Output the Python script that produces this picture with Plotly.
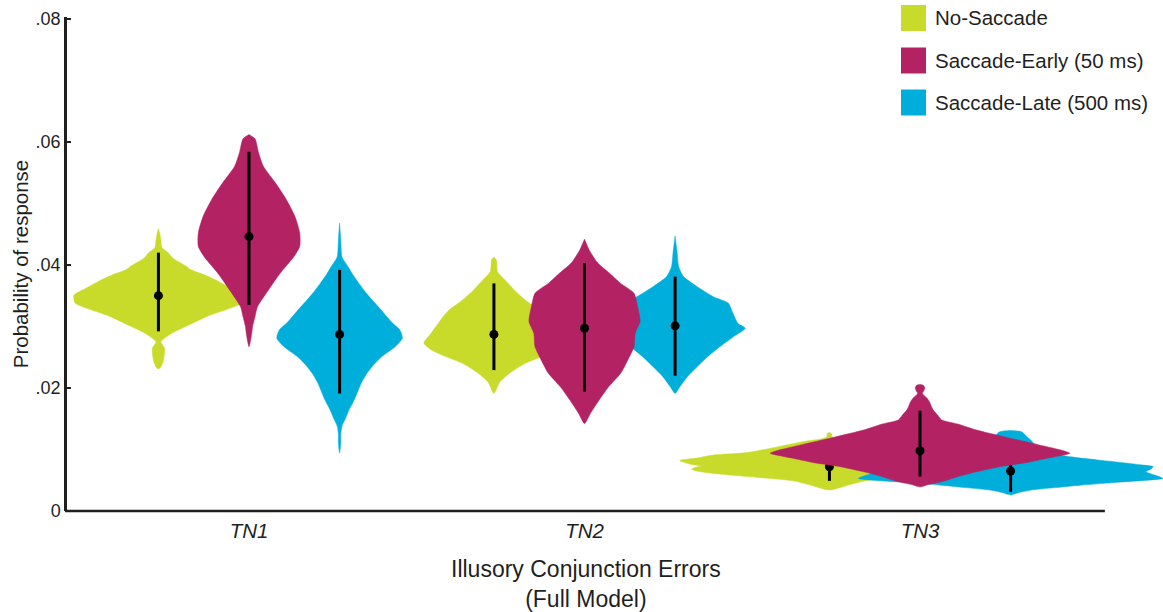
import plotly.graph_objects as go

# ---------------------------------------------------------------------------
# Data
# ---------------------------------------------------------------------------
categories = ["TN1", "TN2", "TN3"]
series_names = ["No-Saccade", "Saccade-Early (50 ms)", "Saccade-Late (500 ms)"]
series_colors = ["#c9db2a", "#b32364", "#00aedb"]

# posterior summaries: mean and interval bounds per condition / category
means = {
    "No-Saccade": [0.0350, 0.0287, 0.0072],
    "Saccade-Early (50 ms)": [0.0446, 0.0297, 0.0098],
    "Saccade-Late (500 ms)": [0.0287, 0.0301, 0.0065],
}
lower = {
    "No-Saccade": [0.0292, 0.0229, 0.0049],
    "Saccade-Early (50 ms)": [0.0335, 0.0194, 0.0056],
    "Saccade-Late (500 ms)": [0.0191, 0.0220, 0.0031],
}
upper = {
    "No-Saccade": [0.0420, 0.0370, 0.0098],
    "Saccade-Early (50 ms)": [0.0584, 0.0403, 0.0163],
    "Saccade-Late (500 ms)": [0.0392, 0.0381, 0.0084],
}

# posterior density profiles (probability grid, estimated density)
ns_tn1_p = [.0231, .0234, .0244, .0257, .0265, .0275, .0281, .0291, .0304, .0317, .0328, .0338,
            .0351, .0361, .0374, .0384, .0392, .0398, .0411, .0420, .0428, .0441, .0452, .0459]
ns_tn1_d = [0, 2, 4, 5, 5, 2, 5, 13, 27, 41, 57, 69, 70, 61, 49, 38, 27, 23, 12, 8, 3, 2, 1, 0]

ns_tn2_p = [.0191, .0210, .0224, .0240, .0251, .0262, .0273, .0289, .0305, .0316, .0327, .0343,
            .0359, .0376, .0389, .0408, .0413]
ns_tn2_d = [0, 5, 13, 26, 40, 52, 58, 52, 46, 42, 37, 26, 17, 9, 3, 2, 0]

ns_tn3_p = [.0034, .0040, .0049, .0056, .0061, .0065, .0068, .0071, .0073, .0076, .0082, .0086,
            .0091, .0095, .0105, .0114, .0118, .0121, .0125, .0128]
ns_tn3_d = [0, 12, 30, 68, 96, 110, 114, 111, 106, 115, 124, 110, 96, 68, 41, 18, 5, 2, 2, 0]

se_tn1_p = [.0267, .0285, .0300, .0316, .0332, .0359, .0387, .0413, .0430, .0452, .0479, .0506,
            .0533, .0560, .0582, .0605, .0612]
se_tn1_d = [0, 2, 3, 5, 7, 16, 26, 37, 42, 42, 38, 31, 22, 12, 8, 5, 0]

se_tn2_p = [.0142, .0159, .0180, .0202, .0224, .0246, .0267, .0289, .0308, .0332, .0354, .0370,
            .0386, .0403, .0424, .0442]
se_tn2_d = [0, 5, 12, 20, 30, 36, 41, 42, 46, 44, 41, 30, 21, 11, 4, 0]

se_tn3_p = [.0039, .0043, .0047, .0055, .0062, .0072, .0079, .0086, .0094, .0100, .0105, .0111,
            .0120, .0132, .0141, .0148, .0155, .0164, .0172, .0177, .0183, .0191, .0195, .0200,
            .0204, .0206]
se_tn3_d = [0, 7, 17, 30, 43, 66, 89, 106, 124, 115, 104, 91, 71, 46, 32, 18, 15, 11, 9, 8, 6,
            2, 3, 4, 3, 0]

sl_tn1_p = [.0094, .0110, .0125, .0138, .0151, .0165, .0180, .0194, .0208, .0222, .0235, .0251,
            .0267, .0281, .0294, .0305, .0316, .0330, .0343, .0357, .0370, .0384, .0397, .0413,
            .0440, .0468]
sl_tn1_d = [0, 1, 1, 2, 5, 8, 12, 15, 18, 22, 27, 35, 46, 52, 50, 44, 39, 33, 27, 21, 16, 11, 7,
            2, 1, 0]

sl_tn2_p = [.0191, .0202, .0218, .0234, .0251, .0267, .0283, .0297, .0305, .0321, .0338, .0348,
            .0365, .0381, .0397, .0424, .0447]
sl_tn2_d = [0, 4, 10, 18, 27, 37, 48, 58, 52, 48, 44, 32, 18, 7, 3, 1.5, 0]

sl_tn3_p = [.0026, .0030, .0034, .0038, .0042, .0047, .0053, .0058, .0064, .0068, .0072, .0075,
            .0079, .0083, .0088, .0094, .0100, .0110, .0115, .0120, .0124, .0129, .0131]
sl_tn3_d = [0, 7, 17, 37, 58, 91, 126, 120, 112, 116, 118, 108, 91, 72, 50, 35, 25, 19, 17, 14,
            12, 9, 0]

profiles = {
    "No-Saccade": [(ns_tn1_p, ns_tn1_d), (ns_tn2_p, ns_tn2_d), (ns_tn3_p, ns_tn3_d)],
    "Saccade-Early (50 ms)": [(se_tn1_p, se_tn1_d), (se_tn2_p, se_tn2_d), (se_tn3_p, se_tn3_d)],
    "Saccade-Late (500 ms)": [(sl_tn1_p, sl_tn1_d), (sl_tn2_p, sl_tn2_d), (sl_tn3_p, sl_tn3_d)],
}

# ---------------------------------------------------------------------------
# Layout parameters
# ---------------------------------------------------------------------------
W, H = 1163, 612
M_L, M_R, M_T, M_B = 67, 0, 17, 101
cat_pos = [1, 2, 3]
offsets = {"No-Saccade": -0.27, "Saccade-Early (50 ms)": 0.0, "Saccade-Late (500 ms)": 0.27}
density_scale = 0.45 / 125          # x-units per density unit
x_lo, x_hi = 0.4575, 0.4575 + (W - M_L - M_R) / 335.5
axis_end = 3.551                    # right end of the drawn x-axis line
y_lo, y_hi = 0.0, 0.0803
ink = "#1f1f1f"
font = "Liberation Sans, Arial, Helvetica, sans-serif"

fig = go.Figure()

# drawing order: green, blue, then magenta on top
draw_order = ["No-Saccade", "Saccade-Late (500 ms)", "Saccade-Early (50 ms)"]
for name in draw_order:
    color = series_colors[series_names.index(name)]
    for k, (ps, ds) in enumerate(profiles[name]):
        c = cat_pos[k] + offsets[name]
        xs = [c + d * density_scale for d in ds] + [c - d * density_scale for d in ds[::-1]]
        ys = list(ps) + list(ps[::-1])
        fig.add_trace(go.Scatter(
            x=xs, y=ys, mode="lines", fill="toself", fillcolor=color,
            line=dict(color=color, width=0.5, shape="spline", smoothing=0.6),
            hoverinfo="skip", showlegend=False,
        ))
    m = means[name]
    fig.add_trace(go.Scatter(
        x=[p + offsets[name] for p in cat_pos], y=m, mode="markers",
        marker=dict(color="black", size=9),
        error_y=dict(type="data", symmetric=False,
                     array=[u - v for u, v in zip(upper[name], m)],
                     arrayminus=[v - lo for v, lo in zip(m, lower[name])],
                     color="black", thickness=3, width=0),
        showlegend=False, name=name,
    ))


def px_x(px):
    return (px - M_L) / (W - M_L - M_R)


def px_y(py):
    return (H - M_B - py) / (H - M_T - M_B)


shapes = [
    # x-axis baseline
    dict(type="line", xref="paper", yref="paper",
         x0=px_x(M_L - 2), x1=(axis_end - x_lo) / (x_hi - x_lo), y0=0, y1=0,
         line=dict(color=ink, width=2.5)),
]
annotations = []

# legend swatches and labels
leg_y = [18, 60.5, 102.5]
for name, color, cy in zip(series_names, series_colors, leg_y):
    shapes.append(dict(type="rect", xref="paper", yref="paper",
                       x0=px_x(901), x1=px_x(926), y0=px_y(cy - 13), y1=px_y(cy + 13),
                       fillcolor=color, line=dict(width=0)))
    annotations.append(dict(text=name, xref="paper", yref="paper", x=px_x(933), y=px_y(cy),
                            xanchor="left", yanchor="middle", showarrow=False,
                            font=dict(size=20.5, color=ink, family=font)))

# x-axis title, centred under the drawn axis line
annotations.append(dict(
    text="Illusory Conjunction Errors<br>(Full Model)", xref="x", yref="paper",
    x=(x_lo + axis_end) / 2, y=px_y(554), xanchor="center", yanchor="top", showarrow=False,
    font=dict(size=23, color=ink, family=font)))

fig.update_layout(
    width=W, height=H,
    margin=dict(l=M_L, r=M_R, t=M_T, b=M_B),
    plot_bgcolor="white", paper_bgcolor="white",
    shapes=shapes, annotations=annotations,
    font=dict(family=font, color=ink),
    showlegend=False,
)
fig.update_xaxes(
    range=[x_lo, x_hi], showline=False, showgrid=False, zeroline=False,
    tickvals=cat_pos, ticktext=categories, ticks="",
    tickfont=dict(size=20.5, color=ink, style="italic"), ticklabelstandoff=5,
)
fig.update_yaxes(
    range=[y_lo, y_hi], showline=True, linecolor=ink, linewidth=2.5,
    showgrid=False, zeroline=False,
    tickvals=[0, 0.02, 0.04, 0.06, 0.08], ticktext=["0", ".02", ".04", ".06", ".08"],
    ticks="inside", ticklen=4, tickwidth=2, tickcolor=ink,
    tickfont=dict(size=18, color=ink),
    title=dict(text="Probability of response", font=dict(size=20.5, color=ink), standoff=2),
)

fig.write_html("out.html")
